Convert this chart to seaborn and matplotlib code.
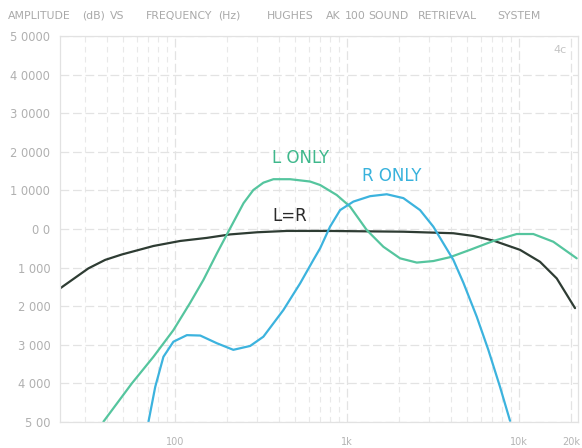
import matplotlib
matplotlib.use("Agg")
import matplotlib.pyplot as plt
import matplotlib.ticker as mticker
import seaborn as sns
import pandas as pd

# ---- data (Hz, dB) ----
lr_freq = [21.4, 31.3, 39.2, 49.0, 74.8, 107, 153, 209, 299, 446, 762, 2125, 4150, 5424, 7089,
           10134, 13250, 16570, 21170]
lr_db = [-1.54, -1.02, -0.80, -0.66, -0.44, -0.31, -0.23, -0.14, -0.085, -0.05, -0.05, -0.07, -0.11,
         -0.18, -0.30, -0.54, -0.85, -1.28, -2.05]

l_freq = [38.3, 56.0, 74.8, 97.7, 122, 146, 175, 209, 250, 285, 326, 373, 466, 609, 697, 871, 1041,
          1303, 1626, 2033, 2543, 3175, 3969, 5189, 7089, 9697, 12110, 15830, 21660]
l_db = [-4.99, -4.00, -3.31, -2.62, -1.92, -1.32, -0.63, 0.02, 0.67, 1.01, 1.20, 1.29, 1.29, 1.23,
        1.14, 0.88, 0.58, -0.03, -0.46, -0.76, -0.87, -0.83, -0.73, -0.54, -0.31, -0.13, -0.13,
        -0.33, -0.76]

r_freq = [70.0, 76.6, 85.5, 97.7, 117, 140, 175, 218, 273, 326, 426, 533, 637, 697, 796, 911, 1088,
          1360, 1701, 2125, 2657, 3175, 3629, 4150, 4745, 5675, 6629, 7754, 8867]
r_db = [-4.99, -4.09, -3.31, -2.92, -2.75, -2.76, -2.96, -3.13, -3.03, -2.79, -2.10, -1.41, -0.80,
        -0.50, 0.06, 0.49, 0.71, 0.85, 0.90, 0.80, 0.49, 0.06, -0.37, -0.80, -1.39, -2.27, -3.13,
        -4.09, -4.97]

x_ticks = [100, 1000, 10000, 20000]
x_tick_labels = ["100", "1k", "10k", "20k"]
y_ticks = [-5, -4, -3, -2, -1, 0, 1, 2, 3, 4, 5]
y_tick_labels = ["5 00", "4 000", "3 000", "2 000", "1 000", "0 0",
                 "1 0000", "2 0000", "3 0000", "4 0000", "5 0000"]

title_words = ["AMPLITUDE", "(dB)", "VS", "FREQUENCY", "(Hz)", "HUGHES", "AK", "100",
               "SOUND", "RETRIEVAL", "SYSTEM"]
title_word_x = [8, 82, 110, 146, 218, 267, 326, 345, 368, 418, 497]

df = pd.concat([
    pd.DataFrame({"freq": lr_freq, "db": lr_db, "series": "L=R"}),
    pd.DataFrame({"freq": l_freq, "db": l_db, "series": "L ONLY"}),
    pd.DataFrame({"freq": r_freq, "db": r_db, "series": "R ONLY"}),
])

sns.set_style("white")
plt.rcParams["font.family"] = ["DejaVu Sans"]

W, H = 582, 448
fig = plt.figure(figsize=(W / 100, H / 100), dpi=100)
ax = fig.add_axes([60 / W, 26 / H, 518 / W, 386 / H])

palette = {"L=R": "#2e3c33", "L ONLY": "#55c59e", "R ONLY": "#3cb3de"}
grid_col = "#e3e3e3"

ax.set_xscale("log")
ax.set_xlim(21.4, 22030)
ax.set_ylim(-5, 5)

ax.set_yticks(y_ticks)
ax.set_yticklabels(y_tick_labels)
ax.set_xticks(x_ticks)
ax.set_xticklabels(x_tick_labels)
ax.xaxis.set_minor_locator(mticker.LogLocator(base=10, subs=range(2, 10)))
ax.xaxis.set_minor_formatter(mticker.NullFormatter())

ax.grid(which="major", axis="both", color=grid_col, lw=0.9, ls=(0, (7, 3)))
ax.grid(which="minor", axis="x", color="#e9e9e9", lw=0.8, ls=(0, (5, 4)))
ax.set_axisbelow(True)

sns.lineplot(data=df, x="freq", y="db", hue="series", palette=palette,
             hue_order=["L=R", "L ONLY", "R ONLY"], lw=1.6, ax=ax, legend=False)

for s in ax.spines.values():
    s.set_color("#e2e2e2")
    s.set_linewidth(0.9)

ax.tick_params(axis="y", length=0, pad=7, labelsize=8.3, labelcolor="#b0b0b0")
ax.tick_params(axis="x", which="both", length=0, pad=11, labelsize=7, labelcolor="#b4b4b4")
ax.set_xlabel("")
ax.set_ylabel("")

# curve labels
fig.text(272 / W, 1 - 158 / H, "L ONLY", color="#3fb88c", fontsize=12, ha="left", va="center")
fig.text(362 / W, 1 - 176 / H, "R ONLY", color="#38b2dc", fontsize=12, ha="left", va="center")
fig.text(272 / W, 1 - 216 / H, "L=R", color="#2a2a2a", fontsize=12, ha="left", va="center")
fig.text(553 / W, 1 - 50 / H, "4c", color="#c4c4c4", fontsize=8, ha="left", va="center")

# title words
for w, x in zip(title_words, title_word_x):
    fig.text(x / W, 1 - 16 / H, w, color="#a9a9a9", fontsize=7.8, ha="left", va="center")

fig.savefig("out.png", dpi=100)
